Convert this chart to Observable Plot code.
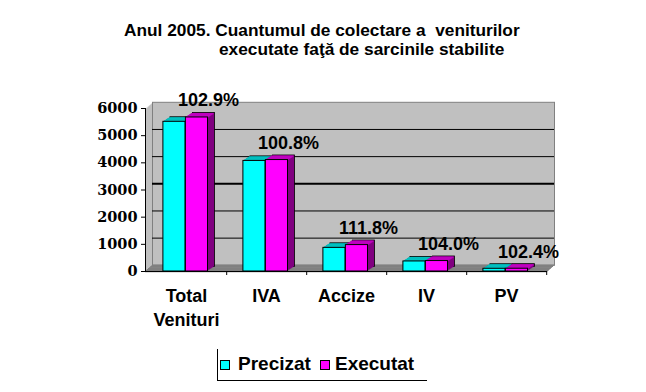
<!DOCTYPE html>
<html>
<head>
<meta charset="utf-8">
<script src="https://cdn.jsdelivr.net/npm/d3@7"></script>
<script src="https://cdn.jsdelivr.net/npm/@observablehq/plot@0.6"></script>
<style>
  html, body { margin: 0; padding: 0; background: #fff; }
  #wrap { position: relative; width: 646px; height: 392px; overflow: hidden; background: #fff; }
  #chart { position: absolute; left: 0; top: 0; }
  .title { position: absolute; font: bold 17.3px "Liberation Sans", Arial, sans-serif; line-height: 19px; white-space: pre; color: #000; }
  #legend { position: absolute; left: 217px; top: 349px; width: 209px; height: 31px; border-left: 1px solid #000; border-bottom: 1px solid #000; font: bold 19px "Liberation Sans", Arial, sans-serif; line-height: 19px; color: #000; }
  .sw { position: absolute; width: 8px; height: 8px; border: 1px solid #000; top: 11px; }
  .lt { position: absolute; top: 5px; white-space: nowrap; }
</style>
</head>
<body>
<div id="wrap">
  <div id="chart"></div>
  <div class="title" style="left:124px; top:21px;">Anul 2005. Cuantumul de colectare a  veniturilor</div>
  <div class="title" style="left:219px; top:40px;">executate faţă de sarcinile stabilite</div>
  <div id="legend">
    <div class="sw" style="left:2px; background:#00ffff;"></div>
    <div class="lt" style="left:20px;">Precizat</div>
    <div class="sw" style="left:102px; background:#ff00ff;"></div>
    <div class="lt" style="left:117px;">Executat</div>
  </div>
</div>
<script>
const categories = ["Total Venituri", "IVA", "Accize", "IV", "PV"];
const seriesNames = ["Precizat", "Executat"];
const precizat = [5510, 4070, 870, 370, 100];
const executat = [5670, 4103, 973, 385, 102];
const percentLabels = ["102.9%", "100.8%", "111.8%", "104.0%", "102.4%"];
const yTicks = [0, 1000, 2000, 3000, 4000, 5000, 6000];
const gridTicks = [1000, 2000, 3000, 4000, 5000];

const rowsP = categories.map((c, i) => ({category: c, series: seriesNames[0], value: precizat[i]}));
const rowsE = categories.map((c, i) => ({category: c, series: seriesNames[1], value: executat[i]}));
const labelRows = categories.map((c, i) => ({category: c, value: executat[i], label: percentLabels[i]}));

const range = n => Array.from({length: n}, (_, i) => i);
const HALF = 40.2;      // half band step (px)
const BARW = 22.5;      // bar width (px)
const SHIFT = -0.8;
const WALL_DX = 7, WALL_DY = 6.2;
const BAR_DEPTH = 7, BAR_DY = 0.65;

function bar3d(rows, front, top, side, left) {
  const inset = left
    ? {insetLeft: HALF - BARW, insetRight: HALF}
    : {insetLeft: HALF, insetRight: HALF - BARW};
  const marks = [];
  marks.push(Plot.barY(rows, {x: "category", y: "value", ...inset, fill: side, stroke: "#000", strokeWidth: 0.8,
    dx: SHIFT + BAR_DEPTH, dy: -BAR_DEPTH * BAR_DY}));
  for (let i = 1; i < BAR_DEPTH; i++) {
    marks.push(Plot.barY(rows, {x: "category", y: "value", ...inset, fill: side, dx: SHIFT + i, dy: -i * BAR_DY}));
  }
  for (let i = 0; i < BAR_DEPTH; i++) {
    marks.push(Plot.tickY(rows, {x: "category", y: "value", ...inset, stroke: top, strokeWidth: 1.2,
      dx: SHIFT + i, dy: -i * BAR_DY}));
  }
  marks.push(Plot.barY(rows, {x: "category", y: "value", ...inset, fill: front, stroke: "#000", strokeWidth: 1, dx: SHIFT}));
  return marks;
}

const chart = Plot.plot({
  width: 646,
  height: 392,
  marginLeft: 145,
  marginRight: 99,
  marginTop: 108,
  marginBottom: 121,
  style: {background: "transparent", color: "#000", overflow: "visible"},
  x: {domain: categories, padding: 0},
  y: {domain: [0, 6000]},
  marks: [
    // back + side wall
    ...range(WALL_DX + 1).map(i => Plot.frame({fill: "#c0c0c0", dx: i, dy: -i * WALL_DY / WALL_DX})),
    Plot.frame({stroke: "#808080", dx: WALL_DX, dy: -WALL_DY}),
    // floor
    ...range(WALL_DX + 1).map(i => Plot.ruleY([0], {stroke: "#808080", strokeWidth: 1.5, dx: i, dy: -i * WALL_DY / WALL_DX})),
    // gridlines on back wall
    Plot.ruleY(gridTicks, {stroke: "#000", strokeWidth: d => d === 3000 ? 2 : 1, dx: WALL_DX, dy: -WALL_DY}),
    // bars
    ...bar3d(rowsP, "#00ffff", "#00c0c0", "#008080", true),
    ...bar3d(rowsE, "#ff00ff", "#c000c0", "#800080", false),
    // axes lines
    Plot.ruleY([0], {stroke: "#000"}),
    Plot.frame({anchor: "left", stroke: "#000"}),
    Plot.axisX({tickSize: 4, tickFormat: () => "", dx: HALF, label: null}),
    Plot.axisX({tickSize: 0, tickPadding: 14, tickFormat: d => d.replace(" ", "\n"), lineHeight: 1.3,
      fontSize: 18, fontWeight: "bold", fontFamily: "Liberation Sans, Arial, sans-serif", label: null}),
    Plot.axisY(yTicks, {tickSize: 4, tickPadding: 4, tickFormat: d => String(d),
      fontSize: 14.5, fontWeight: "bold", fontFamily: "DejaVu Serif, serif", label: null}),
    // percentage labels
    Plot.text(labelRows, {x: "category", y: "value", text: "label", dx: 22, dy: -11, lineAnchor: "bottom",
      fontSize: 18, fontWeight: "bold", fontFamily: "Liberation Sans, Arial, sans-serif", fill: "#000"})
  ]
});
document.getElementById("chart").appendChild(chart);
</script>
</body>
</html>
